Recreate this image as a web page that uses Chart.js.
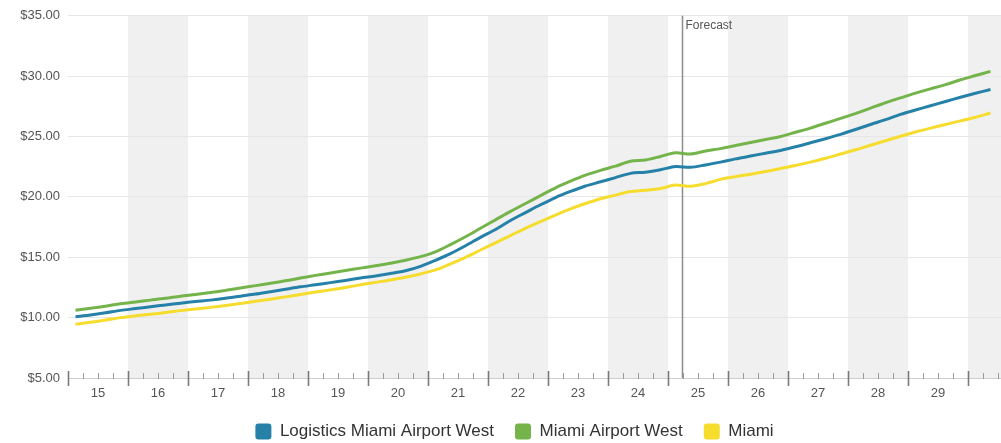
<!DOCTYPE html>
<html>
<head>
<meta charset="utf-8">
<script src="https://cdn.jsdelivr.net/npm/chart.js@4.4.1/dist/chart.umd.min.js"></script>
<style>
html,body{margin:0;padding:0;background:#fff;}
#wrap{width:1001px;height:443px;position:relative;}
</style>
</head>
<body>
<div id="wrap"><canvas id="c"></canvas></div>
<script>
// Year tick labels (each year = 4 quarters)
const years = ['15','16','17','18','19','20','21','22','23','24','25','26','27','28','29'];
// Quarterly values, 15Q1 .. 30Q2
const logisticsMiamiAirportWest = [
  10.07,10.22,10.40,10.60, 10.75,10.90,11.05,11.20, 11.33,11.45,11.60,11.78,
  11.95,12.15,12.35,12.55, 12.72,12.90,13.08,13.28, 13.45,13.65,13.88,14.25,
  14.75,15.30,15.95,16.65, 17.30,18.05,18.70,19.35, 19.95,20.45,20.90,21.25,
  21.60,21.95,22.05,22.25, 22.52,22.45,22.65,22.88, 23.15,23.38,23.62,23.85,
  24.15,24.48,24.82,25.18, 25.58,26.00,26.40,26.83, 27.20,27.55,27.90,28.25,
  28.58,28.90
];
const miamiAirportWest = [
  10.62,10.78,10.95,11.15, 11.30,11.45,11.60,11.78, 11.92,12.08,12.25,12.45,
  12.65,12.85,13.05,13.28, 13.50,13.70,13.90,14.10, 14.30,14.50,14.75,15.05,
  15.45,16.05,16.70,17.40, 18.10,18.80,19.45,20.10, 20.75,21.30,21.80,22.20,
  22.55,22.95,23.05,23.35, 23.65,23.55,23.80,24.00, 24.25,24.50,24.75,25.00,
  25.35,25.70,26.10,26.50, 26.90,27.35,27.80,28.20, 28.60,28.95,29.30,29.70,
  30.05,30.40
];
const miami = [
   9.46, 9.62, 9.80,10.00, 10.15,10.28,10.42,10.58, 10.72,10.85,11.00,11.17,
  11.35,11.53,11.72,11.92, 12.12,12.30,12.50,12.72, 12.92,13.12,13.35,13.62,
  13.95,14.45,15.00,15.60, 16.20,16.80,17.40,17.95, 18.50,19.00,19.45,19.85,
  20.15,20.45,20.55,20.70, 20.98,20.88,21.10,21.45, 21.68,21.88,22.10,22.35,
  22.60,22.88,23.20,23.55, 23.90,24.28,24.65,25.02, 25.38,25.70,26.00,26.30,
  26.60,26.95
];
const seriesNames = ['Logistics Miami Airport West','Miami Airport West','Miami'];
const seriesColors = ['#2581a8','#74b44b','#f5dc2d'];
const yTickValues = [5,10,15,20,25,30,35];
const forecastLabel = 'Forecast';
const forecastQuarter = 41; // boundary between 25Q1 and 25Q2

Chart.defaults.font.family = "'Liberation Sans', Arial, Helvetica, sans-serif";

const toPoints = arr => arr.map((v, i) => ({x: i + 0.5, y: v}));

const decor = {
  id: 'decor',
  afterLayout(chart) {
    // nudge the centred legend slightly right, as in the reference
    chart.legend.left += 28;
  },
  beforeDraw(chart) {
    const {ctx, chartArea: a, scales: {x}} = chart;
    ctx.save();
    ctx.fillStyle = '#f0f0f0';
    const nYears = Math.ceil(x.max / 4);
    for (let k = 1; k <= nYears; k += 2) {
      const l = Math.max(a.left, x.getPixelForValue(4 * k));
      const r = Math.min(a.right, x.getPixelForValue(4 * k + 4));
      if (r > l) ctx.fillRect(l, a.top, r - l, a.bottom - a.top);
    }
    ctx.restore();
  },
  beforeDatasetsDraw(chart) {
    const {ctx, chartArea: a, scales: {x}} = chart;
    ctx.save();
    ctx.strokeStyle = '#d0d0d0';
    ctx.lineWidth = 1;
    ctx.beginPath();
    ctx.moveTo(a.left, a.bottom + 0.5);
    ctx.lineTo(a.right, a.bottom + 0.5);
    ctx.stroke();
    for (let q = 0; q <= Math.floor(x.max); q++) {
      const px = Math.round(x.getPixelForValue(q)) + 0.5;
      ctx.beginPath();
      if (q % 4 === 0) {
        ctx.strokeStyle = '#7a7a7a';
        ctx.lineWidth = 1.6;
        ctx.moveTo(px, a.bottom - 7);
        ctx.lineTo(px, a.bottom + 8);
      } else {
        ctx.strokeStyle = '#9a9a9a';
        ctx.lineWidth = 1;
        ctx.moveTo(px, a.bottom - 5);
        ctx.lineTo(px, a.bottom + 1);
      }
      ctx.stroke();
    }
    const fx = Math.round(x.getPixelForValue(forecastQuarter)) - 0.5;
    ctx.strokeStyle = '#8c8c8c';
    ctx.lineWidth = 1.5;
    ctx.beginPath();
    ctx.moveTo(fx, a.top);
    ctx.lineTo(fx, a.bottom);
    ctx.stroke();
    ctx.fillStyle = '#555';
    ctx.font = "12px 'Liberation Sans', Arial, sans-serif";
    ctx.textBaseline = 'middle';
    ctx.textAlign = 'left';
    ctx.fillText(forecastLabel, fx + 3, a.top + 10);
    ctx.restore();
  }
};

new Chart(document.getElementById('c'), {
  type: 'line',
  data: {
    datasets: [logisticsMiamiAirportWest, miamiAirportWest, miami].map((arr, i) => ({
      label: seriesNames[i],
      data: toPoints(arr),
      borderColor: seriesColors[i],
      backgroundColor: seriesColors[i],
      borderWidth: 3,
      pointRadius: 0,
      tension: 0.3,
      fill: false
    }))
  },
  options: {
    responsive: true,
    maintainAspectRatio: false,
    animation: false,
    layout: {padding: {left: 0, top: 15, right: 0, bottom: 0}},
    scales: {
      x: {
        type: 'linear',
        min: 0,
        max: 62.2,
        grid: {display: false, drawTicks: false},
        border: {display: false},
        afterBuildTicks: s => { s.ticks = years.map((y, k) => ({value: 4 * k + 2})); },
        ticks: {
          autoSkip: false, maxRotation: 0, padding: 8, color: '#555',
          font: {size: 13},
          callback: (v, i) => years[i]
        },
        afterFit: s => { s.height = 24; }
      },
      y: {
        min: 5,
        max: 35,
        afterBuildTicks: s => { s.ticks = yTickValues.map(v => ({value: v})); },
        grid: {color: '#e6e6e6', drawTicks: false},
        border: {display: false},
        ticks: {
          padding: 8, color: '#555', font: {size: 13},
          callback: v => '$' + Number(v).toFixed(2)
        },
        afterFit: s => { s.width = 68; }
      }
    },
    plugins: {
      legend: {
        position: 'bottom',
        maxHeight: 41,
        labels: {
          boxWidth: 16, boxHeight: 16, padding: 21,
          useBorderRadius: true, borderRadius: 3,
          color: '#333', font: {size: 17},
          generateLabels: chart => Chart.defaults.plugins.legend.labels.generateLabels(chart)
            .map(l => Object.assign(l, {lineWidth: 0}))
        }
      },
      tooltip: {enabled: false}
    }
  },
  plugins: [decor]
});
</script>
</body>
</html>
